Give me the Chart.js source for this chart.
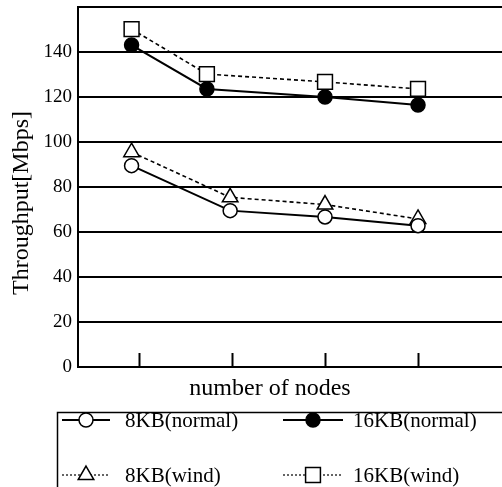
<!DOCTYPE html>
<html>
<head>
<meta charset="utf-8">
<script src="https://cdn.jsdelivr.net/npm/chart.js@4/dist/chart.umd.min.js"></script>
<style>
  html, body { margin: 0; padding: 0; background: #fff; }
  #chart { display: block; }
</style>
</head>
<body>
<canvas id="chart" width="502" height="487"></canvas>
<script>
// node positions on the x axis (unlabelled tick marks)
const nodeTicks = [1, 2, 3, 4];
// x position of each marker
const upperX = [0.92, 1.73, 3.0, 4.0];
const lowerX = [0.92, 1.98, 3.0, 4.0];

const labels = ["8KB(normal)", "16KB(normal)", "8KB(wind)", "16KB(wind)"];
const kb8Normal = [89.5, 69.5, 66.7, 62.8];
const kb16Normal = [143.1, 123.6, 120.0, 116.4];
const kb8Wind = [95.5, 75.4, 72.2, 65.8];
const kb16Wind = [150.2, 130.2, 126.7, 123.6];

const yTickLabels = [0, 20, 40, 60, 80, 100, 120, 140];
const yMax = 160;

const serif = "'Liberation Serif', 'DejaVu Serif', serif";

const toPoints = (xs, ys) => ys.map((v, i) => ({ x: xs[i], y: v }));

const series = (label, xs, ys, style) => ({
  label,
  data: toPoints(xs, ys),
  borderColor: "#000",
  pointBorderColor: "#000",
  pointBorderWidth: 1.5,
  tension: 0,
  clip: false,
  ...style
});

const noPadding = (scale) => {
  scale.paddingTop = 0;
  scale.paddingBottom = 0;
  scale.paddingLeft = 0;
  scale.paddingRight = 0;
};

const overlay = {
  id: "overlay",
  afterDraw(chart) {
    const { ctx, chartArea, scales } = chart;
    const x = scales.x;
    ctx.save();

    // tick marks pointing up from the axis
    ctx.strokeStyle = "#000";
    ctx.lineWidth = 2;
    nodeTicks.forEach((v) => {
      const px = Math.round(x.getPixelForValue(v)) + 0.5;
      ctx.beginPath();
      ctx.moveTo(px, chartArea.bottom);
      ctx.lineTo(px, chartArea.bottom - 14);
      ctx.stroke();
    });

    // axis titles
    ctx.fillStyle = "#000";
    ctx.font = "24px " + serif;
    ctx.textAlign = "center";
    ctx.textBaseline = "middle";
    ctx.fillText("number of nodes", chartArea.left + 192, chartArea.bottom + 22);

    ctx.save();
    ctx.translate(22, chartArea.top + 196);
    ctx.rotate(-Math.PI / 2);
    ctx.fillText("Throughput[Mbps]", 0, 0);
    ctx.restore();

    // legend box
    ctx.lineWidth = 1.5;
    ctx.strokeRect(57.5, 412.5, 470, 100);

    const cols = [
      { x0: 62, x1: 110, text: 125 },
      { x0: 283, x1: 343, text: 353 }
    ];
    const rows = [420, 475];

    ctx.font = "21px " + serif;
    ctx.textAlign = "left";
    chart.data.datasets.forEach((ds, i) => {
      const c = cols[i % 2];
      const yy = rows[Math.floor(i / 2)];
      ctx.strokeStyle = "#000";
      ctx.lineWidth = ds.borderDash ? 1.2 : 2;
      ctx.setLineDash(ds.borderDash ? [2, 2] : []);
      ctx.beginPath();
      ctx.moveTo(c.x0, yy);
      ctx.lineTo(c.x1, yy);
      ctx.stroke();
      ctx.setLineDash([]);
      ctx.fillStyle = ds.pointBackgroundColor;
      ctx.lineWidth = 1.5;
      Chart.helpers.drawPoint(ctx, {
        pointStyle: ds.pointStyle,
        radius: ds.pointRadius,
        rotation: 0,
        borderWidth: 1.5
      }, (c.x0 + c.x1) / 2, yy);
      ctx.fillStyle = "#000";
      ctx.fillText(ds.label, c.text, yy + 1);
    });

    ctx.restore();
  }
};

new Chart(document.getElementById("chart"), {
  type: "line",
  data: {
    datasets: [
      series(labels[0], lowerX, kb8Normal, {
        borderWidth: 2, pointStyle: "circle", pointRadius: 7, pointBackgroundColor: "#fff"
      }),
      series(labels[1], upperX, kb16Normal, {
        borderWidth: 2, pointStyle: "circle", pointRadius: 7, pointBackgroundColor: "#000"
      }),
      series(labels[2], lowerX, kb8Wind, {
        borderWidth: 1.6, borderDash: [4, 3], pointStyle: "triangle", pointRadius: 9, pointBackgroundColor: "#fff"
      }),
      series(labels[3], upperX, kb16Wind, {
        borderWidth: 1.6, borderDash: [4, 3], pointStyle: "rect", pointRadius: 10.5, pointBackgroundColor: "#fff"
      })
    ]
  },
  options: {
    responsive: false,
    animation: false,
    layout: { autoPadding: false, padding: { top: 7, right: 0, bottom: 120, left: 0 } },
    plugins: {
      legend: { display: false },
      tooltip: { enabled: false }
    },
    scales: {
      x: {
        type: "linear",
        min: 0.344,
        max: 4.903,
        ticks: { display: false },
        grid: { display: false },
        border: { display: false },
        afterFit: (scale) => { scale.height = 0; noPadding(scale); }
      },
      y: {
        min: 0,
        max: yMax,
        ticks: {
          stepSize: 20,
          padding: 6,
          color: "#000",
          font: { family: serif, size: 19 },
          callback: (v) => (yTickLabels.includes(v) ? v : "")
        },
        grid: { color: "#000", lineWidth: 2, drawTicks: false },
        border: { display: true, color: "#000", width: 2 },
        afterFit: (scale) => { scale.width = 78; noPadding(scale); }
      }
    }
  },
  plugins: [overlay]
});
</script>
</body>
</html>
